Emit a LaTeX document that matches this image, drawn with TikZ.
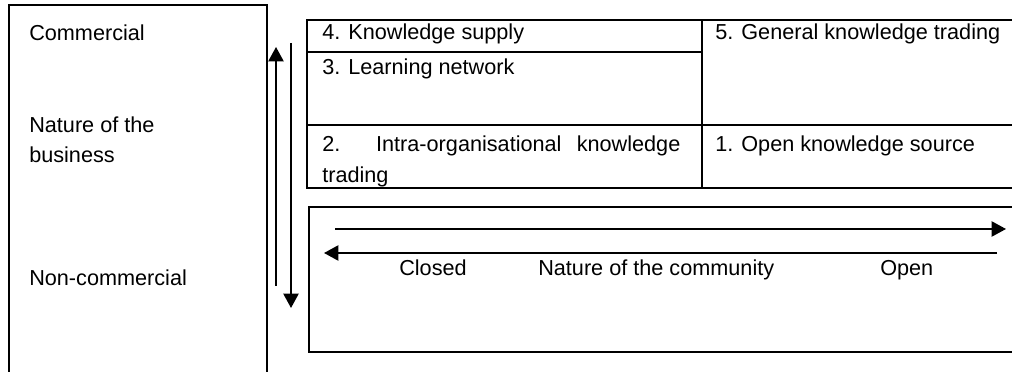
\documentclass[tikz,border=0pt]{standalone}
\usepackage{fontspec}
\setmainfont{Liberation Sans}
\usetikzlibrary{arrows.meta}
\begin{document}
\begin{tikzpicture}[x=0.025cm,y=-0.025cm,
    frame/.style={line width=1.4pt},
    axis/.style={line width=1.3pt,-{Triangle[length=0.36cm,width=0.38cm]}},
    lbl/.style={anchor=base west,inner sep=0pt,font=\fontsize{15.4}{22}\selectfont}]
    \definecolor{nb_line}{RGB}{0,0,0}
    \useasboundingbox (0,0) rectangle (1012,372);
    \draw[frame,draw=nb_line] (9,372) to (9,5) to (267,5) to (267,372);
    \node[lbl] (com) at (29,41) {Commercial};
    \node[lbl,align=left] (bus) at (29,163) {Nature of the\\business};
    \node[lbl] (noncom) at (29,286) {Non-commercial};
    \coordinate (up_from) at (276,286);
    \coordinate (up_to) at (276,47);
    \coordinate (down_from) at (291,43);
    \coordinate (down_to) at (291,308);
    \draw[axis] (up_from) to (up_to);
    \draw[axis] (down_from) to (down_to);
    \draw[frame] (1012,20) to (307,20) to (307,188) to (1012,188);
    \draw[frame] (702,20) to (702,188);
    \draw[frame] (307,52) to (702,52);
    \draw[frame] (307,125) to (1012,125);
    \node[lbl] (t4) at (322,40) {4. Knowledge supply};
    \node[lbl] (t3) at (322,75) {3. Learning network};
    \node[lbl,text width=8.95cm,align=justify,execute at begin node={\tolerance=10000\hyphenpenalty=10000}] (t2) at (322,152) {2. Intra-organisational knowledge trading};
    \node[lbl] (t5) at (715,40) {5. General knowledge trading};
    \node[lbl] (t1) at (715,152) {1. Open knowledge source};
    \draw[frame] (1012,207) to (309,207) to (309,352) to (1012,352);
    \coordinate (open_from) at (335,229);
    \coordinate (open_to) at (1006,229);
    \coordinate (closed_from) at (997,253);
    \coordinate (closed_to) at (324,253);
    \draw[axis] (open_from) to (open_to);
    \draw[axis] (closed_from) to (closed_to);
    \node[lbl] (closed) at (399,276) {Closed};
    \node[lbl] (commun) at (538,276) {Nature of the community};
    \node[lbl] (open) at (880,276) {Open};
\end{tikzpicture}
\end{document}
